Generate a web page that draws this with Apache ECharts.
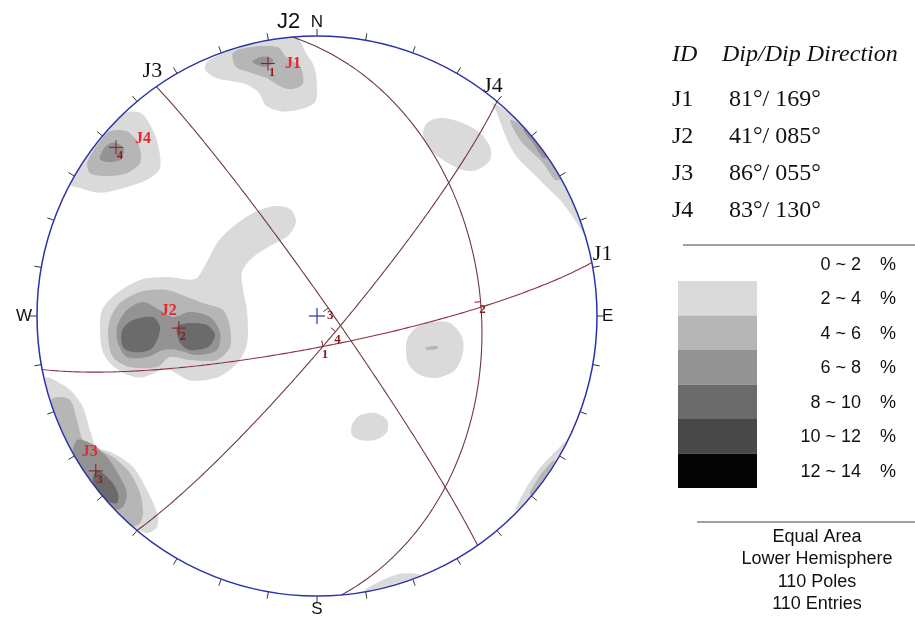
<!DOCTYPE html>
<html>
<head>
    <meta charset="UTF-8">
    <script src="https://cdn.jsdelivr.net/npm/echarts@6/dist/echarts.min.js"></script>
    <style>
        html, body { margin:0; padding:0; background:#fff; }
        #net { width:915px; height:617px; }
    </style>
</head>
<body>
<div id="net"></div>
<script>
var D2R = Math.PI / 180;

// joint sets (dip / dip direction)
var setIds = ['J1', 'J2', 'J3', 'J4'];
var dips = [81, 41, 86, 83];
var dipDirs = [169, 85, 55, 130];

// legend + notes
var rangeLabels = ['0 ~ 2', '2 ~ 4', '4 ~ 6', '6 ~ 8', '8 ~ 10', '10 ~ 12', '12 ~ 14'];
var shades = ['#dadada', '#b6b6b6', '#939393', '#6b6b6b', '#484848', '#050505'];
var compassLabels = {0: 'N', 90: 'E', 180: 'S', 270: 'W'};
var footerLines = ['Equal Area', 'Lower Hemisphere', '110 Poles', '110 Entries'];

// pole density contours, net coords (x east, y north, rim r = 1), lv 0 = 2~4 %
var blobJ1 = [
    {lv: 0, pts: [[-0.39,0.91],[-0.40,0.88],[-0.36,0.85],[-0.26,0.83],[-0.21,0.80],[-0.18,0.75],[-0.11,0.73],[-0.01,0.76],[0.00,0.82],[-0.01,0.89],[-0.04,0.94],[-0.07,0.99],[-0.15,0.985],[-0.25,0.965],[-0.33,0.94]]},
    {lv: 1, pts: [[-0.30,0.94],[-0.24,0.96],[-0.14,0.96],[-0.11,0.925],[-0.06,0.89],[-0.05,0.83],[-0.09,0.81],[-0.13,0.82],[-0.18,0.85],[-0.24,0.87],[-0.29,0.89]]},
    {lv: 2, pts: [[-0.23,0.91],[-0.20,0.925],[-0.16,0.92],[-0.16,0.90],[-0.19,0.89],[-0.22,0.90]]}
];
var blobJ4 = [
    {lv: 0, pts: [[-0.686,0.725],[-0.63,0.725],[-0.60,0.69],[-0.57,0.62],[-0.56,0.53],[-0.60,0.49],[-0.68,0.46],[-0.775,0.44],[-0.846,0.457],[-0.88,0.47],[-0.82,0.57],[-0.76,0.645]]},
    {lv: 1, pts: [[-0.74,0.66],[-0.68,0.66],[-0.64,0.62],[-0.63,0.55],[-0.68,0.51],[-0.75,0.50],[-0.81,0.51],[-0.82,0.55],[-0.77,0.63]]},
    {lv: 2, pts: [[-0.76,0.60],[-0.73,0.62],[-0.69,0.60],[-0.70,0.56],[-0.74,0.55],[-0.775,0.56]]}
];
var blobJ2 = [
    {lv: 0, pts: [[-0.775,-0.025],[-0.764,-0.13],[-0.714,-0.19],[-0.632,-0.22],[-0.536,-0.19],[-0.454,-0.23],[-0.357,-0.22],[-0.286,-0.17],[-0.25,-0.10],[-0.25,0.02],[-0.264,0.093],[-0.268,0.157],[-0.232,0.207],[-0.168,0.25],[-0.104,0.286],[-0.075,0.336],[-0.096,0.382],[-0.15,0.393],[-0.221,0.371],[-0.293,0.325],[-0.354,0.264],[-0.40,0.18],[-0.436,0.132],[-0.536,0.139],[-0.632,0.129],[-0.714,0.082],[-0.764,0.029]]},
    {lv: 1, pts: [[-0.74,-0.014],[-0.704,0.046],[-0.632,0.086],[-0.536,0.093],[-0.464,0.068],[-0.407,0.046],[-0.336,0.021],[-0.311,-0.039],[-0.311,-0.111],[-0.357,-0.157],[-0.454,-0.157],[-0.525,-0.146],[-0.571,-0.182],[-0.668,-0.182],[-0.729,-0.146],[-0.746,-0.075]]},
    {lv: 2, pts: [[-0.714,-0.039],[-0.679,0.021],[-0.621,0.05],[-0.561,0.021],[-0.514,-0.004],[-0.454,0.014],[-0.382,-0.004],[-0.346,-0.061],[-0.357,-0.121],[-0.429,-0.139],[-0.50,-0.121],[-0.55,-0.121],[-0.607,-0.146],[-0.679,-0.146],[-0.711,-0.096]]},
    {lv: 3, pts: [[-0.696,-0.05],[-0.657,-0.014],[-0.586,-0.004],[-0.561,-0.039],[-0.571,-0.086],[-0.596,-0.121],[-0.657,-0.129],[-0.693,-0.111]]},
    {lv: 3, pts: [[-0.50,-0.039],[-0.454,-0.025],[-0.393,-0.032],[-0.364,-0.068],[-0.389,-0.111],[-0.454,-0.121],[-0.489,-0.096]]}
];
var blobJ3 = [
    {lv: 0, pts: [[-0.97,-0.22],[-0.90,-0.25],[-0.871,-0.275],[-0.836,-0.325],[-0.811,-0.407],[-0.786,-0.468],[-0.729,-0.489],[-0.657,-0.539],[-0.607,-0.621],[-0.571,-0.704],[-0.571,-0.754],[-0.607,-0.775],[-0.66,-0.75],[-0.75,-0.66],[-0.83,-0.555],[-0.90,-0.43],[-0.95,-0.30]]},
    {lv: 1, pts: [[-0.925,-0.289],[-0.882,-0.30],[-0.857,-0.371],[-0.836,-0.443],[-0.80,-0.468],[-0.729,-0.504],[-0.668,-0.561],[-0.632,-0.632],[-0.621,-0.704],[-0.632,-0.739],[-0.66,-0.75],[-0.75,-0.66],[-0.83,-0.555],[-0.90,-0.43],[-0.95,-0.30]]},
    {lv: 2, pts: [[-0.857,-0.443],[-0.811,-0.454],[-0.75,-0.504],[-0.704,-0.575],[-0.679,-0.632],[-0.693,-0.682],[-0.72,-0.69],[-0.79,-0.61],[-0.87,-0.49]]},
    {lv: 3, pts: [[-0.786,-0.55],[-0.739,-0.586],[-0.711,-0.632],[-0.714,-0.668],[-0.75,-0.66],[-0.80,-0.595]]}
];
var blobNE = [
    {lv: 0, pts: [[0.625,0.761],[0.643,0.725],[0.679,0.629],[0.714,0.568],[0.771,0.511],[0.821,0.461],[0.868,0.414],[0.914,0.354],[0.95,0.296],[0.96,0.28],[0.93,0.365],[0.88,0.474],[0.82,0.57],[0.75,0.66],[0.68,0.73]]},
    {lv: 1, pts: [[0.689,0.70],[0.725,0.629],[0.771,0.582],[0.807,0.546],[0.85,0.486],[0.87,0.49],[0.81,0.585],[0.73,0.68]]},
    {lv: 2, pts: [[0.736,0.664],[0.771,0.618],[0.807,0.564],[0.82,0.57],[0.77,0.635],[0.74,0.67]]}
];
var blobSE = [
    {lv: 0, pts: [[0.707,-0.693],[0.743,-0.621],[0.796,-0.543],[0.85,-0.486],[0.893,-0.443],[0.85,-0.52],[0.79,-0.61],[0.73,-0.68]]},
    {lv: 1, pts: [[0.76,-0.63],[0.80,-0.565],[0.845,-0.515],[0.85,-0.52],[0.80,-0.595],[0.765,-0.64]]}
];
var blobSpots = [
    {lv: 0, pts: [[0.321,-0.086],[0.357,-0.039],[0.414,-0.021],[0.475,-0.025],[0.518,-0.075],[0.521,-0.132],[0.493,-0.193],[0.429,-0.221],[0.368,-0.211],[0.325,-0.168]]},
    {lv: 1, pts: [[0.39,-0.112],[0.43,-0.108],[0.43,-0.118],[0.39,-0.12]]},
    {lv: 0, pts: [[0.379,0.654],[0.393,0.689],[0.439,0.707],[0.511,0.693],[0.582,0.654],[0.618,0.604],[0.618,0.557],[0.571,0.521],[0.521,0.521],[0.45,0.557],[0.396,0.604]]},
    {lv: 0, pts: [[0.125,-0.389],[0.154,-0.354],[0.207,-0.346],[0.25,-0.371],[0.25,-0.414],[0.207,-0.443],[0.154,-0.443],[0.125,-0.425]]},
    {lv: 0, pts: [[0.17,-0.98],[0.22,-0.95],[0.30,-0.92],[0.37,-0.925],[0.30,-0.95],[0.22,-0.972]]}
];

// equal-area lower hemisphere projection of a line
function project(trend, plunge) {
    var r = Math.SQRT2 * Math.sin((90 - plunge) / 2 * D2R);
    return [r * Math.sin(trend * D2R), r * Math.cos(trend * D2R)];
}

function greatCircle(dd, dip) {
    var s = (dd - 90) * D2R, d = dd * D2R, dp = dip * D2R;
    var S = [Math.sin(s), Math.cos(s), 0];
    var Dv = [Math.cos(dp) * Math.sin(d), Math.cos(dp) * Math.cos(d), Math.sin(dp)];
    var out = [];
    for (var a = 0; a <= 180; a += 1) {
        var ca = Math.cos(a * D2R), sa = Math.sin(a * D2R);
        var e = ca * S[0] + sa * Dv[0], n = ca * S[1] + sa * Dv[1], z = Math.max(-1, Math.min(1, sa * Dv[2]));
        out.push(project(Math.atan2(e, n) / D2R, Math.asin(z) / D2R));
    }
    return out;
}

var rings = [];
[blobJ1, blobJ4, blobJ2, blobJ3, blobNE, blobSE, blobSpots].forEach(function (b) {
    b.forEach(function (r) { rings.push(r); });
});
rings.sort(function (a, b) { return a.lv - b.lv; });

var poles = setIds.map(function (id, i) { return project(dipDirs[i] + 180, 90 - dips[i]); });
var dipPoints = setIds.map(function (id, i) { return project(dipDirs[i], dips[i]); });
var strikeEnds = setIds.map(function (id, i) { return project(dipDirs[i] - 90, 0); });

var RED = '#e8262e', DARKRED = '#8b1a1f', BLUE = '#2a33a6';
var poleTagOffset = {J1: [25, 0], J2: [-10, -17], J3: [-6, -19], J4: [27, -8]};

function txt(x, y, text, font, fill, align, valign) {
    return {type: 'text', x: x, y: y, style: {text: text, font: font, fill: fill,
        textAlign: align || 'center', align: align || 'center',
        textVerticalAlign: valign || 'middle', verticalAlign: valign || 'middle'}};
}

var series = [];

series.push({
    type: 'custom', coordinateSystem: 'cartesian2d', silent: true, z: 1, animation: false,
    data: rings.map(function (r) { return r.pts[0]; }),
    renderItem: function (params, api) {
        var ring = rings[params.dataIndex];
        return {type: 'polygon', shape: {points: ring.pts.map(function (p) { return api.coord(p); }), smooth: 0.3},
            style: {fill: shades[ring.lv], stroke: null, lineWidth: 0}};
    }
});

setIds.forEach(function (id, i) {
    series.push({
        type: 'line', data: greatCircle(dipDirs[i], dips[i]), symbol: 'none', silent: true, z: 3, animation: false,
        lineStyle: {color: i === 0 ? '#8c2f3a' : '#6e3a3c', width: 1.1}
    });
});

// poles with labels
series.push({
    type: 'custom', coordinateSystem: 'cartesian2d', silent: true, z: 5, animation: false,
    data: poles,
    renderItem: function (params, api) {
        var i = params.dataIndex, c = api.coord(poles[i]), off = poleTagOffset[setIds[i]];
        return {type: 'group', children: [
            {type: 'line', shape: {x1: c[0] - 7, y1: c[1], x2: c[0] + 7, y2: c[1]}, style: {stroke: DARKRED, lineWidth: 1}},
            {type: 'line', shape: {x1: c[0], y1: c[1] - 7, x2: c[0], y2: c[1] + 7}, style: {stroke: DARKRED, lineWidth: 1}},
            txt(c[0] + 4, c[1] + 9, String(i + 1), 'bold 12px "Liberation Serif"', DARKRED),
            txt(c[0] + off[0], c[1] + off[1], setIds[i], 'bold 16px "Liberation Serif"', RED)
        ]};
    }
});

// dip direction marks on great circles
series.push({
    type: 'custom', coordinateSystem: 'cartesian2d', silent: true, z: 5, animation: false,
    data: dipPoints,
    renderItem: function (params, api) {
        var i = params.dataIndex, c = api.coord(dipPoints[i]), o = api.coord([0, 0]);
        var dx = o[0] - c[0], dy = o[1] - c[1], L = Math.sqrt(dx * dx + dy * dy) || 1;
        return {type: 'group', children: [
            {type: 'line', shape: {x1: c[0], y1: c[1], x2: c[0] + dx / L * 6, y2: c[1] + dy / L * 6}, style: {stroke: DARKRED, lineWidth: 1}},
            txt(c[0] + 2, c[1] + 8, String(i + 1), 'bold 13px "Liberation Serif"', DARKRED)
        ]};
    }
});

// centre mark
series.push({
    type: 'custom', coordinateSystem: 'cartesian2d', silent: true, z: 5, animation: false,
    data: [[0, 0]],
    renderItem: function (params, api) {
        var c = api.coord([0, 0]);
        return {type: 'group', children: [
            {type: 'line', shape: {x1: c[0] - 8, y1: c[1], x2: c[0] + 8, y2: c[1]}, style: {stroke: BLUE, lineWidth: 1.2}},
            {type: 'line', shape: {x1: c[0], y1: c[1] - 8, x2: c[0], y2: c[1] + 8}, style: {stroke: BLUE, lineWidth: 1.2}}
        ]};
    }
});

// set names at strike ends
series.push({
    type: 'custom', coordinateSystem: 'cartesian2d', silent: true, z: 5, animation: false,
    data: strikeEnds,
    renderItem: function (params, api) {
        var i = params.dataIndex, c = api.coord(strikeEnds[i]);
        var az = (dipDirs[i] - 90) * D2R;
        var font = i === 1 ? '22px "Liberation Sans"' : '22px "Liberation Serif"';
        if (Math.sin(az) > 0.9) return txt(c[0] + 1, c[1] - 8, setIds[i], font, '#111', 'left');
        return txt(c[0] - 4, c[1] - 15, setIds[i], font, '#111');
    }
});

// right-hand panel
var graphics = [];
graphics.push(txt(672, 55, 'ID', 'italic 24px "Liberation Serif"', '#111', 'left'));
graphics.push(txt(722, 55, 'Dip/Dip Direction', 'italic 24px "Liberation Serif"', '#111', 'left'));
setIds.forEach(function (id, i) {
    var y = 100 + i * 36.8;
    var dd = ('00' + dipDirs[i]).slice(-3);
    graphics.push(txt(672, y, id, '24px "Liberation Serif"', '#111', 'left'));
    graphics.push(txt(729, y, dips[i] + '\u00b0/ ' + dd + '\u00b0', '24px "Liberation Serif"', '#111', 'left'));
});
graphics.push({type: 'line', shape: {x1: 683, y1: 245, x2: 915, y2: 245}, style: {stroke: '#444', lineWidth: 1}});
rangeLabels.forEach(function (lab, k) {
    var y = 265 + k * 34.5;
    graphics.push(txt(861, y, lab, '18px "Liberation Sans"', '#111', 'right'));
    graphics.push(txt(888, y, '%', '18px "Liberation Sans"', '#111'));
    if (k > 0) {
        graphics.push({type: 'rect', shape: {x: 678, y: 281 + (k - 1) * 34.5, width: 79, height: 34.5},
            style: {fill: shades[k - 1], stroke: null}});
    }
});
graphics.push({type: 'line', shape: {x1: 697, y1: 522, x2: 915, y2: 522}, style: {stroke: '#444', lineWidth: 1}});
footerLines.forEach(function (s, j) {
    graphics.push(txt(817, 537 + j * 22.5, s, '18px "Liberation Sans"', '#111'));
});

var chart = echarts.init(document.getElementById('net'));
chart.setOption({
    animation: false,
    backgroundColor: '#fff',
    grid: {left: 37, top: 36, width: 560, height: 560},
    xAxis: {type: 'value', min: -1, max: 1, show: false},
    yAxis: {type: 'value', min: -1, max: 1, show: false},
    polar: {center: [317, 316], radius: 280},
    angleAxis: {
        type: 'value', min: 0, max: 360, interval: 10, startAngle: 90, clockwise: true, z: 10,
        axisLine: {lineStyle: {color: BLUE, width: 1.5}},
        axisTick: {length: 7, lineStyle: {color: '#333', width: 1}},
        axisLabel: {margin: 5, fontSize: 17, color: '#111', fontFamily: 'Liberation Sans',
            formatter: function (v) { return compassLabels[v] || ''; }},
        splitLine: {show: false}
    },
    radiusAxis: {type: 'value', min: 0, max: 1, show: false, splitLine: {show: false}},
    series: series,
    graphic: graphics
});
</script>
</body>
</html>
